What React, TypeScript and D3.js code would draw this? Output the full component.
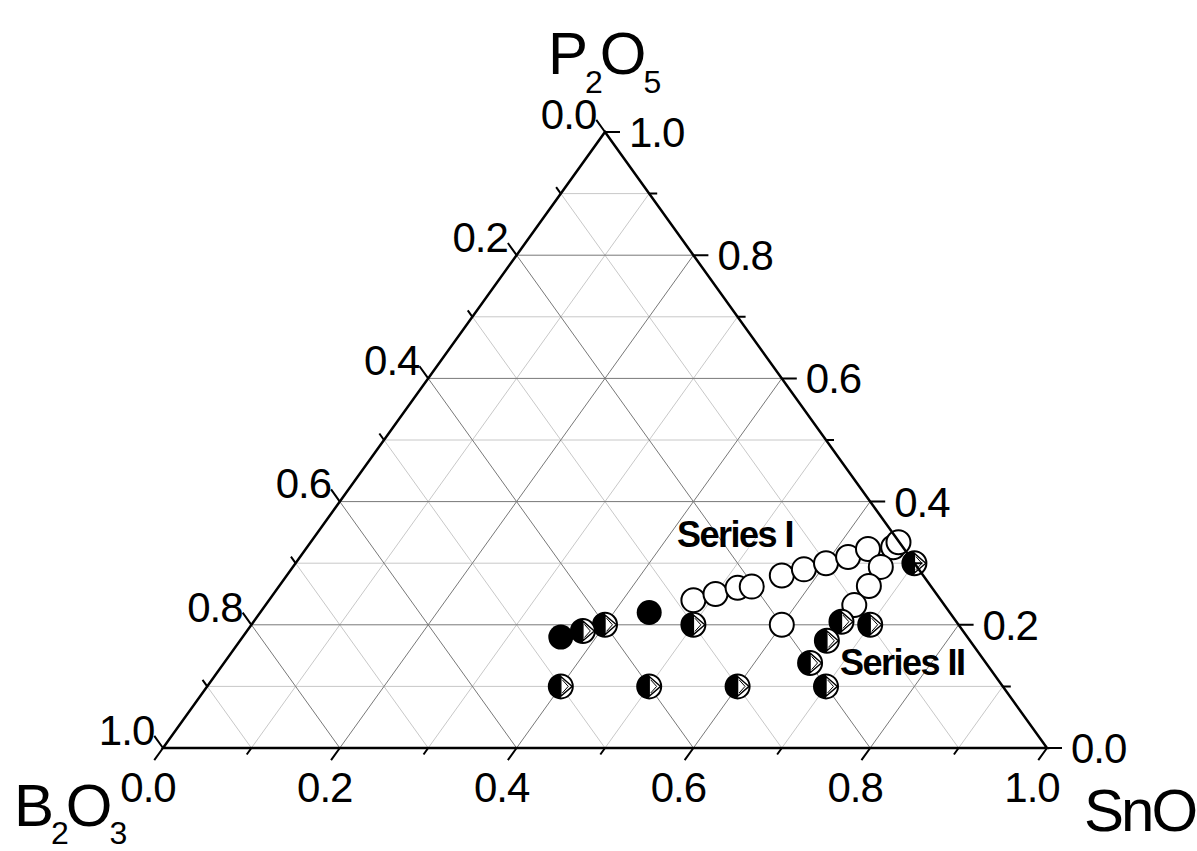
import React from 'react';
import * as d3 from 'd3';

// compositions (mole fractions)
const seriesI_P2O5 = [0.24, 0.25, 0.26, 0.262, 0.28, 0.29, 0.30, 0.31, 0.323, 0.326, 0.334, 0.294, 0.263, 0.232, 0.20];
const seriesI_SnO = [0.48, 0.50, 0.52, 0.535, 0.56, 0.58, 0.60, 0.62, 0.636, 0.663, 0.665, 0.665, 0.667, 0.666, 0.60];

const seriesII_P2O5 = [0.10, 0.10, 0.10, 0.10, 0.20, 0.19, 0.20, 0.205, 0.20, 0.174, 0.138, 0.30];
const seriesII_SnO = [0.40, 0.50, 0.60, 0.70, 0.40, 0.38, 0.50, 0.665, 0.70, 0.664, 0.663, 0.70];

const solid_P2O5 = [0.18, 0.22];
const solid_SnO = [0.36, 0.44];

const tickValues = d3.range(0, 11).map(i => i / 10);
const gridValues = d3.range(1, 10).map(i => i / 10);

const W = 1197;
const H = 851;
const FONT = '"Liberation Sans", Arial, Helvetica, sans-serif';

const xs = d3.scaleLinear().domain([0, 1]).range([163, 1047]);
const ys = d3.scaleLinear().domain([0, 1]).range([748, 132]);

// (P2O5, SnO) -> screen
const proj = (p: number, s: number): [number, number] => [xs(s + p / 2), ys(p)];

const top = proj(1, 0);
const bl = proj(0, 0);
const br = proj(0, 1);

const norm = (dx: number, dy: number): [number, number] => {
  const l = Math.hypot(dx, dy);
  return [dx / l, dy / l];
};
const dirUL = norm(top[0] - br[0], top[1] - br[1]);
const dirDL = norm(bl[0] - top[0], bl[1] - top[1]);

const R = 12;

const HalfMarker: React.FC<{ cx: number; cy: number }> = ({ cx, cy }) => {
  const left = `M${cx},${cy - R} A${R},${R} 0 0 0 ${cx},${cy + R} Z`;
  const tri = `M${cx},${cy - R * 0.82} L${cx + R * 0.95},${cy} L${cx},${cy + R * 0.82} Z`;
  const tri2 = `M${cx + 1.5},${cy - R * 0.55} L${cx + R * 0.62},${cy} L${cx + 1.5},${cy + R * 0.55}`;
  return (
    <g>
      <circle cx={cx} cy={cy} r={R} fill="#fff" stroke="#000" strokeWidth={2} />
      <path d={left} fill="#000" />
      <path d={tri} fill="none" stroke="#000" strokeWidth={1.4} />
      <path d={tri2} fill="none" stroke="#000" strokeWidth={1} />
    </g>
  );
};

export default function App() {
  const grid: { d: string; major: boolean }[] = [];
  gridValues.forEach((v, i) => {
    const major = (i + 1) % 2 === 0;
    const a = proj(v, 0), b = proj(v, 1 - v);
    grid.push({ d: `M${a}L${b}`, major });
    const c = proj(0, v), e = proj(1 - v, v);
    grid.push({ d: `M${c}L${e}`, major });
    const f = proj(0, 1 - v), g = proj(1 - v, 0);
    grid.push({ d: `M${f}L${g}`, major });
  });

  const ticks: string[] = [];
  const labels: React.ReactNode[] = [];
  tickValues.forEach((v, i) => {
    const major = i % 2 === 0;
    const len = major ? 15 : 8;
    const txt = v.toFixed(1);
    // left axis: B2O3 (0 at top)
    const lp = proj(1 - v, 0);
    const le: [number, number] = [lp[0] + dirUL[0] * len, lp[1] + dirUL[1] * len];
    ticks.push(`M${lp}L${le}`);
    // right axis: P2O5
    const rp = proj(v, 1 - v);
    const re: [number, number] = [rp[0] + len, rp[1]];
    ticks.push(`M${rp}L${re}`);
    // bottom axis: SnO
    const bp = proj(0, v);
    const be: [number, number] = [bp[0] + dirDL[0] * len, bp[1] + dirDL[1] * len];
    ticks.push(`M${bp}L${be}`);
    if (major) {
      labels.push(
        <text key={`l${i}`} x={le[0]} y={le[1] + 9} textAnchor="end">{txt}</text>,
        <text key={`r${i}`} x={re[0] + 9} y={rp[1] + 15} textAnchor="start">{txt}</text>,
        <text key={`b${i}`} x={bp[0] - 15} y={bp[1] + 54} textAnchor="middle">{txt}</text>
      );
    }
  });

  const frame = `M${top}L${br}L${bl}Z`;

  return (
    <svg width={W} height={H} style={{ position: 'absolute', left: 0, top: 0, background: '#fff' }} fontFamily={FONT}>
      <rect width={W} height={H} fill="#fff" />
      <g fill="none" strokeWidth={1}>
        {grid.filter(g => !g.major).map((g, i) => <path key={`m${i}`} d={g.d} stroke="#c8c8c8" />)}
        {grid.filter(g => g.major).map((g, i) => <path key={`M${i}`} d={g.d} stroke="#787878" />)}
      </g>

      {seriesI_P2O5.map((p, i) => {
        const [cx, cy] = proj(p, seriesI_SnO[i]);
        return <circle key={`o${i}`} cx={cx} cy={cy} r={R} fill="#fff" stroke="#000" strokeWidth={2} />;
      })}
      {solid_P2O5.map((p, i) => {
        const [cx, cy] = proj(p, solid_SnO[i]);
        return <circle key={`s${i}`} cx={cx} cy={cy} r={R + 0.5} fill="#000" />;
      })}
      {seriesII_P2O5.map((p, i) => {
        const [cx, cy] = proj(p, seriesII_SnO[i]);
        return <HalfMarker key={`h${i}`} cx={cx} cy={cy} />;
      })}

      <path d={frame} fill="none" stroke="#000" strokeWidth={2.5} strokeLinejoin="miter" />
      <path d={ticks.join('')} fill="none" stroke="#000" strokeWidth={2} />

      <g fontSize={42} fill="#000" letterSpacing={-1}>{labels}</g>

      <text x={677} y={547} fontSize={36} fontWeight="bold" letterSpacing={-1.5}>Series I</text>
      <text x={840} y={675} fontSize={36} fontWeight="bold" letterSpacing={-1.5}>Series II</text>

      <g fontSize={60} letterSpacing={-3}>
        <text x={548} y={74}>P<tspan fontSize={32} dy={19}>2</tspan><tspan dy={-19}>O</tspan><tspan fontSize={32} dy={19}>5</tspan></text>
        <text x={14} y={826}>B<tspan fontSize={32} dy={18}>2</tspan><tspan dy={-18}>O</tspan><tspan fontSize={32} dy={18}>3</tspan></text>
        <text x={1084} y={831}>SnO</text>
      </g>
    </svg>
  );
}
